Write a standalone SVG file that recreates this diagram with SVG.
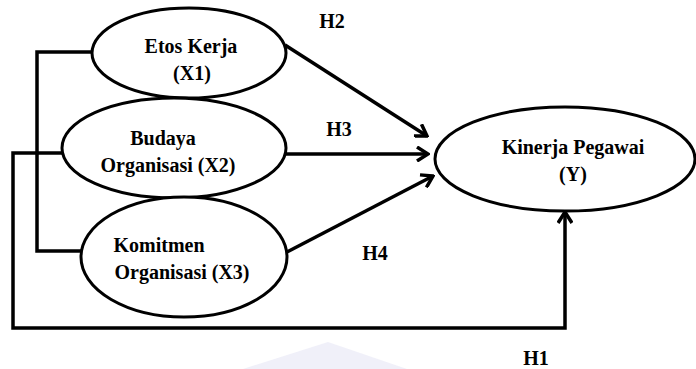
<svg xmlns="http://www.w3.org/2000/svg" width="696" height="369" viewBox="0 0 696 369">
<style>
.node{fill:#fff;stroke:#000;stroke-width:3}
.t{font-family:"Liberation Serif","Times New Roman",serif;font-weight:bold;font-size:20px;fill:#000;text-anchor:middle}
.c{fill:none;stroke:#000;stroke-width:3.5;stroke-linejoin:miter}
</style>
<defs>
<marker id="arr" viewBox="-14 -8 16 16" refX="0" refY="0" markerWidth="16" markerHeight="16" markerUnits="userSpaceOnUse" orient="auto">
<path d="M-11,-7 L0,0 L-11,7" fill="none" stroke="#000" stroke-width="3.5"/>
</marker>
</defs>
<rect width="696" height="369" fill="#fff"/>
<polygon points="243,369 328,342 407,369" fill="#ececf8" opacity="0.8"/>
<g id="connectors">
<path class="c" d="M92,52 H37 V251 H81"/>
<path class="c" d="M62,153 H13 V328 H565 V212" marker-end="url(#arr)"/>
<path class="c" d="M285,45 L427,136" marker-end="url(#arr)"/>
<path class="c" d="M286,154 L428,154" marker-end="url(#arr)"/>
<path class="c" d="M287,252 L433,176" marker-end="url(#arr)"/>
</g>
<g id="x1">
<ellipse class="node" cx="189" cy="53" rx="97" ry="45"/>
<text class="t" x="191" y="53">Etos Kerja</text>
<text class="t" x="192" y="80">(X1)</text>
</g>
<g id="x2">
<ellipse class="node" cx="174" cy="148" rx="112" ry="50"/>
<text class="t" x="163" y="145">Budaya</text>
<text class="t" x="168" y="172">Organisasi (X2)</text>
</g>
<g id="x3">
<ellipse class="node" cx="184" cy="257" rx="103" ry="60"/>
<text class="t" x="159" y="252">Komitmen</text>
<text class="t" x="182" y="279">Organisasi (X3)</text>
</g>
<g id="y">
<ellipse class="node" cx="565" cy="159" rx="130" ry="52"/>
<text class="t" x="573" y="154">Kinerja Pegawai</text>
<text class="t" x="573" y="181">(Y)</text>
</g>
<g id="labels">
<text class="t" x="332" y="28">H2</text>
<text class="t" x="339" y="136">H3</text>
<text class="t" x="375" y="260">H4</text>
<text class="t" x="536" y="365">H1</text>
</g>
</svg>
